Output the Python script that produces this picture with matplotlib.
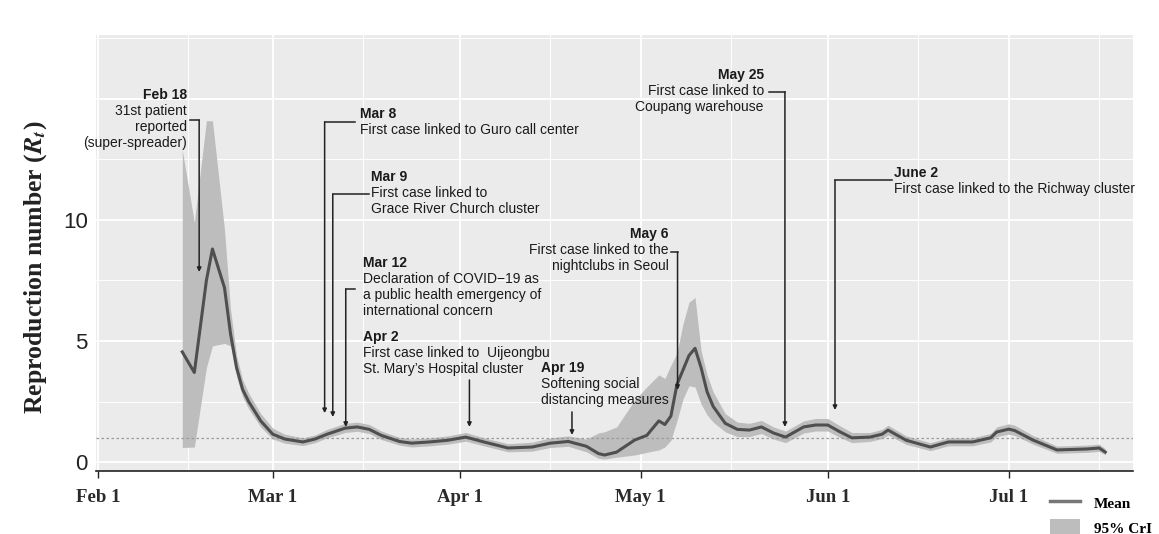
import numpy as np
import pandas as pd
import matplotlib.pyplot as plt
import matplotlib.dates as mdates
from matplotlib.lines import Line2D
from matplotlib.patches import Patch

plt.rcParams['mathtext.fontset'] = 'stix'

start = pd.Timestamp('2020-02-01')

# days since Feb 1 2020, posterior mean of Rt and its 95% credible interval
day = [14, 16, 18, 19, 21, 22, 23, 24, 25, 27, 29, 31, 34, 36, 38, 41, 43, 45, 47, 50,
       52, 55, 58, 61, 64, 68, 72, 75, 78, 81, 83, 84, 86, 89, 91, 93, 94, 95, 96, 97,
       98, 99, 100, 101, 102, 104, 106, 108, 110, 112, 114, 117, 119, 121, 123, 125, 128, 130, 131, 134,
       138, 141, 145, 148, 149, 151, 152, 155, 159, 164, 166, 167]
rt_mean = [4.55, 3.70, 7.50, 8.80, 7.20, 5.30, 3.90, 3.00, 2.50, 1.70, 1.15, 0.95, 0.83, 0.95, 1.15, 1.40, 1.45, 1.35, 1.10, 0.85,
           0.78, 0.83, 0.90, 1.03, 0.83, 0.58, 0.62, 0.78, 0.85, 0.65, 0.35, 0.29, 0.41, 0.91, 1.10, 1.70, 1.55, 1.90, 3.20, 3.80,
           4.40, 4.70, 3.90, 2.90, 2.30, 1.60, 1.35, 1.32, 1.45, 1.20, 1.03, 1.45, 1.53, 1.53, 1.25, 1.00, 1.03, 1.15, 1.32, 0.90,
           0.62, 0.83, 0.83, 1.00, 1.24, 1.36, 1.30, 0.91, 0.50, 0.54, 0.58, 0.41]
rt_lo = [0.60, 0.62, 3.90, 4.80, 4.90, 4.80, 3.55, 2.70, 2.20, 1.45, 0.95, 0.78, 0.68, 0.80, 1.00, 1.22, 1.27, 1.18, 0.93, 0.70,
         0.62, 0.67, 0.74, 0.86, 0.67, 0.42, 0.45, 0.60, 0.65, 0.42, 0.15, 0.12, 0.20, 0.29, 0.40, 0.50, 0.62, 0.90, 1.70, 2.60,
         3.15, 3.10, 2.40, 1.95, 1.65, 1.25, 1.05, 1.05, 1.18, 0.95, 0.80, 1.20, 1.28, 1.28, 1.02, 0.80, 0.85, 0.97, 1.12, 0.73,
         0.47, 0.67, 0.67, 0.83, 1.05, 1.15, 1.10, 0.74, 0.36, 0.40, 0.44, 0.30]
rt_hi = [12.90, 9.90, 14.10, 14.10, 9.60, 6.30, 4.40, 3.40, 2.85, 2.00, 1.40, 1.15, 1.00, 1.12, 1.35, 1.60, 1.65, 1.55, 1.28, 1.02,
         0.95, 1.00, 1.08, 1.22, 1.00, 0.76, 0.82, 1.00, 1.08, 0.95, 1.20, 1.25, 1.45, 2.56, 3.10, 3.60, 3.45, 4.00, 4.50, 5.70,
         6.60, 6.80, 4.60, 3.60, 2.90, 2.00, 1.65, 1.60, 1.72, 1.45, 1.28, 1.70, 1.80, 1.80, 1.50, 1.22, 1.22, 1.35, 1.52, 1.08,
         0.80, 1.00, 1.00, 1.18, 1.45, 1.58, 1.52, 1.10, 0.66, 0.70, 0.74, 0.55]

# key events: date, description lines, text side, text x, header y, arrow x, arrow tip, line top, elbow end
events = [
    ('Feb 18', ['31st patient', 'reported', '(super-spreader)'], 'right', 14.75, 15.17, 16.8, 7.85, 14.13, 15.25),
    ('Mar 8', ['First case linked to Guro call center'], 'left', 43.4, 14.38, 37.6, 2.02, 14.05, 42.6),
    ('Mar 9', ['First case linked to', 'Grace River Church cluster'], 'left', 45.25, 11.78, 38.95, 1.86, 11.07, 44.9),
    ('Mar 12', ['Declaration of COVID\u221219 as', 'a public health emergency of', 'international concern'],
     'left', 43.9, 8.22, 41.1, 1.45, 7.15, 42.6),
    ('Apr 2', ['First case linked to  Uijeongbu', 'St. Mary\u2019s Hospital cluster'], 'left', 43.9, 5.17, 61.6, 1.45, 3.39, None),
    ('Apr 19', ['Softening social', 'distancing measures'], 'left', 73.4, 3.88, 78.6, 1.12, 2.07, None),
    ('May 6', ['First case linked to the', 'nightclubs in Seoul'], 'right', 94.6, 9.42, 96.1, 2.98, 8.68, 95.0),
    ('May 25', ['First case linked to', 'Coupang warehouse'], 'right', 110.4, 15.99, 113.9, 1.45, 15.29, 111.2),
    ('June 2', ['First case linked to the Richway cluster'], 'left', 131.9, 11.94, 122.2, 2.15, 11.65, 131.6),
]

base = mdates.date2num(start)
x = base + np.array(day)

note_font = ['Liberation Sans', 'DejaVu Sans']

fig = plt.figure(figsize=(11.59, 5.34), dpi=100)
ax = fig.add_axes([96/1159, 1 - 471/534, (1133 - 96)/1159, (471 - 35)/534])
ax.set_facecolor('#ebebeb')

ax.fill_between(x, rt_lo, rt_hi, color='#bdbdbd', lw=0, zorder=2)
ax.plot(x, rt_mean, color='#4f4f4f', lw=2.2, zorder=3)
ax.axhline(1, color='#9a9a9a', lw=0.9, ls=(0, (2, 2)), zorder=2.5)

ax.set_xlim(base - 0.3, base + 171.6)
ax.set_ylim(-0.37, 17.64)

ax.xaxis.set_major_locator(mdates.MonthLocator())
ax.xaxis.set_minor_locator(mdates.MonthLocator(bymonthday=16))
ax.xaxis.set_major_formatter(plt.FuncFormatter(
    lambda v, p: mdates.num2date(v).strftime('%b ') + str(mdates.num2date(v).day)))
ax.set_yticks([0, 5, 10, 15])
ax.set_yticklabels(['0', '5', '10', ''])
ax.set_yticks([2.5, 7.5, 12.5, 17.5], minor=True)

ax.grid(which='major', color='white', lw=1.3, zorder=0)
ax.grid(which='minor', color='white', lw=0.7, zorder=0)
ax.set_axisbelow(True)

for s in ['top', 'right', 'left']:
    ax.spines[s].set_visible(False)
ax.spines['bottom'].set_color('#222222')
ax.spines['bottom'].set_linewidth(1.2)
ax.tick_params(axis='x', which='major', length=5, width=1, color='#222222', pad=8)
ax.tick_params(axis='x', which='minor', length=0)
ax.tick_params(axis='y', which='both', length=0, pad=6)
for t in ax.get_xticklabels():
    t.set_fontfamily('Liberation Serif')
    t.set_fontsize(13.5)
    t.set_fontweight('bold')
    t.set_color('#2a2a2a')
for t in ax.get_yticklabels():
    t.set_fontfamily('Liberation Sans')
    t.set_fontsize(16)
    t.set_color('#222222')

fig.text(0.031, 1 - 267/534, r'Reproduction number ($\mathbfit{R}_{\mathbfit{t}}$)',
         rotation=90, ha='center', va='center', family='Liberation Serif',
         fontsize=18.5, fontweight='bold', color='#222222')

# event annotations with elbow leader lines
step = 0.66
for head, body, side, tx, ty, axd, tip, top, elbow in events:
    ax.text(base + tx, ty, head, ha=side, va='center', family=note_font,
            fontsize=10, fontweight='bold', color='#1a1a1a', zorder=5)
    for i, line in enumerate(body):
        ax.text(base + tx, ty - step * (i + 1), line, ha=side, va='center',
                family=note_font, fontsize=10, color='#1a1a1a', zorder=5)
    if elbow is not None:
        ax.plot([base + elbow, base + axd], [top, top], color='#222222', lw=1.1, zorder=4)
    ax.annotate('', xy=(base + axd, tip), xytext=(base + axd, top),
                arrowprops=dict(arrowstyle='-|>', color='#222222', lw=1.1,
                                mutation_scale=6, shrinkA=0, shrinkB=0), zorder=4)

handles = [Line2D([], [], color='#777777', lw=2.5),
           Patch(facecolor='#bdbdbd', edgecolor='none')]
leg = fig.legend(handles, ['Mean', '95% CrI'], loc='upper left',
                 bbox_to_anchor=(1036/1159, 1 - 480/534), frameon=False,
                 prop={'family': 'Liberation Serif', 'weight': 'bold', 'size': 11},
                 handlelength=2.0, handleheight=1.5, labelspacing=0.4, handletextpad=0.9)

fig.savefig('out.png', dpi=100, facecolor='white')
